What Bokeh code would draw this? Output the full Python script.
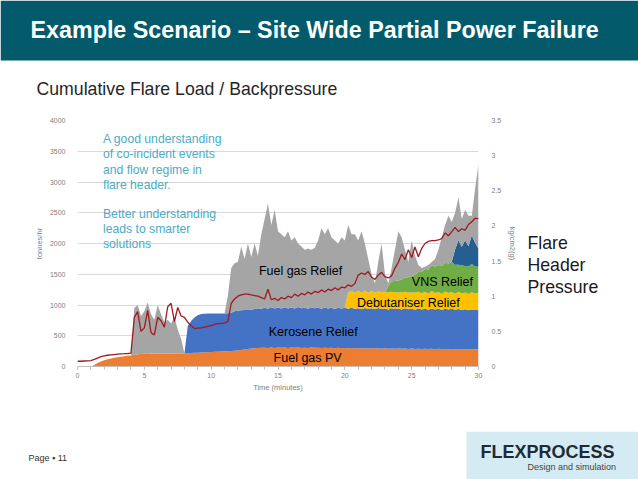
from bokeh.plotting import figure
from bokeh.layouts import column, row
from bokeh.models import (Range1d, LinearAxis, Label, BoxAnnotation, SingleIntervalTicker,
                          CustomJSTickFormatter, ColumnDataSource)
from bokeh.embed import file_html
from bokeh.resources import INLINE

# ---------------- data ----------------
time_min = [i * 0.25 for i in range(121)]

fuel_gas_pv = [0, 0, 0, 0, 0,
               25, 55, 80, 100, 118, 132, 143, 152, 160, 167, 173, 180,
               190, 198, 205, 208, 205, 210, 207, 212, 208, 212, 210, 213, 210, 214, 212, 215,
               217, 220, 222, 225, 228, 230, 232, 235, 238, 240, 243, 246, 250, 254, 258, 262,
               270, 278, 285, 292, 296, 300, 303, 305,
               300, 308, 302, 310, 304, 309, 301, 307, 303, 310, 302, 306, 300, 308, 303, 306,
               300, 305, 299, 304, 298, 303, 297, 302, 296, 300, 294, 299, 293, 298, 292, 297,
               291, 296, 290, 295, 289, 294, 288, 293, 287, 292, 286, 291, 285, 290, 284, 289,
               283, 288, 282, 287, 281, 286, 280, 285, 280, 284, 279, 283, 278, 282, 277, 280]

kerosene_relief = [0] * 33 + [
    440, 520, 575, 610, 625, 628, 628, 626, 624, 622, 620, 617, 614, 620, 640, 650, 645, 640, 635, 632,
    640, 648, 636, 652, 640, 655, 642, 650, 638, 656,
    644, 652, 640, 657, 645, 650, 638, 655, 646, 651,
    640, 656, 644, 650, 637, 654, 645, 652, 641, 657,
    646, 650, 638, 655, 644, 651, 640, 656, 645, 650,
    639, 654, 645, 652, 640, 657, 646, 650, 638, 655,
    644, 651, 640, 656, 645, 650, 637, 654, 645, 652,
    641, 650, 640, 648, 638, 646, 640, 645]

debutaniser_relief = [0] * 81 + [
    265, 272, 260, 278, 268, 275, 262, 280, 270, 266,
    276, 262, 281, 269, 274, 260, 279, 267, 273, 263,
    280, 270, 265, 277, 261, 282, 268, 274, 262, 279,
    269, 275, 263, 280, 267, 272, 261, 278, 270, 265]

vns_relief = [0] * 93 + [
    100, 170, 185, 195, 210, 230, 245, 265, 290, 320, 345, 370, 395, 415,
    430, 440, 455, 470, 480, 490, 470, 440, 460, 430, 450, 460, 440, 430]

other_relief = [0] * 113 + [250, 400, 300, 420, 330, 470, 380, 300]

fuel_gas_relief = [0] * 17 + [
    760, 802, 615, 692, 835, 640, 553, 788, 642, 508, 550, 487, 590, 386, 238] + [0] * 13 + [
    286, 726, 782, 788, 1035, 832, 1080, 856, 1064, 852,
    1211, 1443, 1710, 1337, 1606, 1240, 1208, 1135, 1255, 1091,
    1157, 1033, 1003, 944, 982, 937, 981, 1093, 1310, 1189,
    1307, 1146, 1115, 1043, 1158, 1096, 1098, 921, 950, 823,
    1001, 772, 552, 272, 149, 482, 789, 293, 41, 213,
    508, 800, 684, 454, 250, 581, 307, 115, 62, 33,
    71, 59, 125, 249, 465, 611, 776, 648, 596, 696,
    454, 497, 493, 314, 893, 1380]

header_pressure = [0.075, 0.075, 0.078, 0.08, 0.085, 0.10, 0.12, 0.14, 0.15, 0.16,
                   0.165, 0.17, 0.175, 0.18, 0.182, 0.185, 0.19, 0.70, 0.78, 0.50,
                   0.55, 0.80, 0.48, 0.45, 0.70, 0.65, 0.56, 0.85, 0.90, 0.64,
                   0.84, 0.72, 0.70, 0.63, 0.58, 0.54, 0.545, 0.55, 0.56, 0.57,
                   0.58, 0.60, 0.61, 0.615, 0.62, 0.64, 0.90, 0.96, 1.0, 1.02,
                   1.03, 1.03, 1.02, 1.01, 1.0, 0.98, 0.96, 1.10, 0.95, 0.97,
                   0.94, 0.98, 0.96, 1.0, 0.98, 1.03, 1.0, 1.04, 1.02, 1.06,
                   1.03, 1.07, 1.05, 1.09, 1.06, 1.1, 1.08, 1.12, 1.09, 1.13,
                   1.12, 1.16, 1.14, 1.18, 1.30, 1.33, 1.31, 1.35, 1.27, 1.24,
                   1.30, 1.34, 1.28, 1.26, 1.29, 1.40, 1.48, 1.60, 1.52, 1.66,
                   1.55, 1.70, 1.56, 1.68, 1.75, 1.78, 1.79, 1.79, 1.80, 1.82,
                   1.90, 1.86, 1.92, 1.98, 1.92, 1.96, 1.94, 2.02, 2.06, 2.11,
                   2.10]

series_names = ["fuel_gas_pv", "kerosene_relief", "debutaniser_relief",
                "vns_relief", "other_relief", "fuel_gas_relief"]
series_colors = ["#ed7d31", "#4472c4", "#ffc000", "#70ad47", "#255e91", "#a5a5a5"]

source = ColumnDataSource(dict(
    t=time_min, fuel_gas_pv=fuel_gas_pv, kerosene_relief=kerosene_relief,
    debutaniser_relief=debutaniser_relief, vns_relief=vns_relief,
    other_relief=other_relief, fuel_gas_relief=fuel_gas_relief,
    pressure=header_pressure))

FONT = "Liberation Sans"
PAGE_W = 638
HEAD_H = 105      # header band + subtitle
MID_H = 326       # chart row
FOOT_H = 479 - HEAD_H - MID_H
MAIN_W = 520


def blank(w, h, y_top=0, y_bottom=None):
    if y_bottom is None:
        y_bottom = h
    f = figure(width=w, height=h, output_backend="svg", toolbar_location=None,
               x_range=Range1d(0, w), y_range=Range1d(y_bottom, y_top),
               x_axis_type=None, y_axis_type=None, min_border=0)
    f.outline_line_color = None
    f.grid.visible = False
    return f


def text(f, x, y, s, size, color="#000000", style="normal", align="left"):
    f.add_layout(Label(x=x, y=y, text=s, text_font=FONT, text_font_size=size,
                       text_color=color, text_font_style=style, text_align=align,
                       text_baseline="middle"))


# ---------------- header ----------------
head = blank(PAGE_W, HEAD_H)
head.add_layout(BoxAnnotation(left=0, right=PAGE_W, top=0, bottom=60,
                              fill_color="#025a6a", fill_alpha=1.0, line_color=None))
text(head, 30, 29, "Example Scenario  \u2013 Site Wide Partial Power Failure", "23.3px",
     color="#ffffff", style="bold")
text(head, 36, 88, "Cumulative Flare Load / Backpressure", "17.7px", color="#262626")

# ---------------- main chart ----------------
p = figure(width=MAIN_W, height=MID_H, output_backend="svg", toolbar_location=None,
           x_range=Range1d(0, 30), y_range=Range1d(0, 4000),
           min_border_left=77, min_border_right=MAIN_W - 486,
           min_border_top=120 - HEAD_H, min_border_bottom=HEAD_H + MID_H - 366)
p.outline_line_color = None
p.extra_y_ranges = {"pressure": Range1d(0, 3.5)}

p.varea_stack(stackers=series_names, x="t", color=series_colors, source=source)
p.line("t", "pressure", source=source, y_range_name="pressure",
       line_color="#a01a1f", line_width=1.3)

p.xaxis.ticker = SingleIntervalTicker(interval=5, num_minor_ticks=5)
p.xaxis.axis_label = "Time (minutes)"
p.xaxis.axis_line_color = "#bfbfbf"
p.xaxis.major_tick_line_color = "#bfbfbf"
p.xaxis.minor_tick_line_color = "#bfbfbf"
p.xaxis.major_tick_in = 0
p.xaxis.major_tick_out = 3
p.xaxis.minor_tick_in = 0
p.xaxis.minor_tick_out = 3
p.xaxis.major_label_standoff = 3
p.xaxis.axis_label_standoff = 2

p.yaxis.ticker = SingleIntervalTicker(interval=500)
p.yaxis.axis_label = "tonnes/hr"
p.yaxis.axis_line_color = None
p.yaxis.major_tick_line_color = None
p.yaxis.minor_tick_line_color = None
p.yaxis.major_label_standoff = 6
p.yaxis.axis_label_standoff = 3

ax2 = LinearAxis(y_range_name="pressure", axis_label="kg/cm2(g)",
                 ticker=SingleIntervalTicker(interval=0.5),
                 formatter=CustomJSTickFormatter(code="return String(tick)"))
ax2.axis_line_color = None
ax2.major_tick_line_color = None
ax2.minor_tick_line_color = None
ax2.major_label_standoff = 7
ax2.axis_label_standoff = 4
p.add_layout(ax2, "right")

for ax in [p.xaxis[0], p.yaxis[0], ax2]:
    ax.major_label_text_font = FONT
    ax.major_label_text_font_size = "7px"
    ax.major_label_text_color = "#808080"
    ax.axis_label_text_font = FONT
    ax.axis_label_text_font_size = "7.5px"
    ax.axis_label_text_font_style = "normal"
    ax.axis_label_text_color = "#808080"

p.xgrid.grid_line_color = None
p.ygrid.grid_line_color = "#d9d9d9"


# page pixels -> data coordinates (frame spans x 77..486, y 120..366 on the page)
def dx(X):
    return (X - 77) * 30.0 / 409.0


def dy(Y):
    return (366 - Y) * 4000.0 / 246.0


for Y, line in zip([138, 153, 169, 184, 213.5, 228.5, 243],
                   ["A good understanding", "of co-incident events", "and flow regime in",
                    "flare header.", "Better understanding", "leads to smarter", "solutions"]):
    text(p, dx(103), dy(Y), line, "12.2px", color="#4bacc6")

text(p, dx(262), dy(270), "Fuel gas Relief", "12.5px")
text(p, dx(418), dy(281), "VNS Relief", "12.5px")
text(p, dx(362), dy(302), "Debutaniser Relief", "12.5px")
text(p, dx(272), dy(331), "Kerosene Relief", "12.5px")
text(p, dx(277), dy(357), "Fuel gas PV", "12.5px")

# ---------------- right side text ----------------
# its frame is aligned by the row with the chart frame (page y 120..366)
side = blank(PAGE_W - MAIN_W, MID_H, y_top=120, y_bottom=366)
for Y, line in zip([242, 264, 286], ["Flare", "Header", "Pressure"]):
    text(side, 527 - MAIN_W, Y, line, "17.7px", color="#1a1a1a")

# ---------------- footer ----------------
foot = blank(PAGE_W, FOOT_H)
foot.add_layout(BoxAnnotation(left=466, right=PAGE_W, top=0, bottom=FOOT_H,
                              fill_color="#d5ebf3", fill_alpha=1.0, line_color=None))
y0 = HEAD_H + MID_H
text(foot, 28, 457 - y0, "Page \u25aa 11", "9px", color="#333333")
text(foot, 480, 451 - y0, "FLEXPROCESS", "18px", color="#1d2b36", style="bold")
text(foot, 527, 466 - y0, "Design and simulation", "9px", color="#444444")

layout = column(head, row(p, side), foot)
open("out.html", "w").write(file_html(layout, INLINE))
